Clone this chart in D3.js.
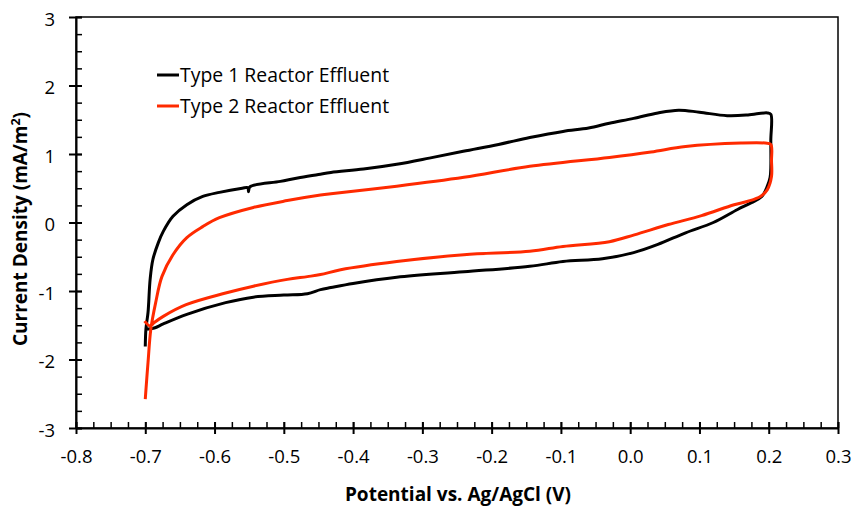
<!DOCTYPE html>
<html><head><meta charset="utf-8">
<script src="https://cdn.jsdelivr.net/npm/d3@7"></script>
<style>body{margin:0;background:#fff}svg{display:block}text{font-family:"Open Sans",sans-serif}</style>
</head><body><svg id="c" width="852" height="508"></svg>
<script>
// Data (potential V, current density mA/m^2)
const seriesNames = ["Type 1 Reactor Effluent", "Type 2 Reactor Effluent"];
const seriesColors = ["#000000", "#ff2a00"];
const type1 = [
[-0.700,-1.81],[-0.699,-1.55],[-0.696,-1.31],[-0.693,-0.83],[-0.689,-0.54],[-0.681,-0.29],[-0.674,-0.13],[-0.660,0.09],[-0.640,0.26],[-0.617,0.38],[-0.593,0.44],[-0.560,0.50],[-0.552,0.51],[-0.551,0.45],[-0.549,0.52],[-0.505,0.60],[-0.480,0.65],[-0.450,0.70],[-0.432,0.73],[-0.385,0.78],[-0.337,0.85],[-0.290,0.94],[-0.241,1.04],[-0.190,1.14],[-0.145,1.24],[-0.097,1.33],[-0.060,1.38],[-0.030,1.45],[0.005,1.52],[0.040,1.60],[0.070,1.64],[0.100,1.61],[0.140,1.56],[0.170,1.57],[0.198,1.60],[0.203,1.58],
[0.203,1.20],[0.203,0.80],[0.202,0.66],[0.198,0.53],[0.190,0.38],[0.175,0.29],[0.155,0.19],[0.120,0.00],[0.080,-0.15],[0.040,-0.32],[0.005,-0.44],[-0.040,-0.53],[-0.097,-0.57],[-0.145,-0.64],[-0.240,-0.72],[-0.337,-0.80],[-0.400,-0.89],[-0.432,-0.95],[-0.447,-0.98],[-0.466,-1.04],[-0.500,-1.06],[-0.544,-1.09],[-0.584,-1.17],[-0.640,-1.34],[-0.674,-1.48],[-0.687,-1.54],[-0.699,-1.56]
];
const type2 = [
[-0.700,-2.58],[-0.698,-2.30],[-0.696,-2.04],[-0.692,-1.56],[-0.685,-1.17],[-0.676,-0.79],[-0.660,-0.47],[-0.640,-0.22],[-0.617,-0.06],[-0.593,0.07],[-0.544,0.22],[-0.495,0.32],[-0.447,0.40],[-0.432,0.42],[-0.337,0.53],[-0.240,0.66],[-0.145,0.82],[-0.030,0.95],[0.030,1.03],[0.080,1.11],[0.160,1.16],[0.195,1.16],[0.203,1.14],
[0.204,0.90],[0.204,0.67],[0.198,0.48],[0.188,0.38],[0.170,0.31],[0.150,0.26],[0.103,0.10],[0.055,-0.03],[0.006,-0.18],[-0.030,-0.28],[-0.097,-0.35],[-0.145,-0.42],[-0.240,-0.47],[-0.337,-0.57],[-0.418,-0.69],[-0.447,-0.76],[-0.466,-0.79],[-0.495,-0.83],[-0.544,-0.93],[-0.584,-1.03],[-0.641,-1.20],[-0.674,-1.37],[-0.687,-1.46],[-0.693,-1.51],[-0.701,-1.44]
];
const xTicks = [-0.8,-0.7,-0.6,-0.5,-0.4,-0.3,-0.2,-0.1,0.0,0.1,0.2,0.3];
const yTicks = [-3,-2,-1,0,1,2,3];

const svg = d3.select("#c");
const L=76, R=838, T=17, B=428;
const x = d3.scaleLinear().domain([-0.8,0.3]).range([L,R]);
const y = d3.scaleLinear().domain([-3,3]).range([B,T]);

// frame
svg.append("rect").attr("x",L).attr("y",T).attr("width",R-L).attr("height",B-T)
  .attr("fill","none").attr("stroke","#000").attr("stroke-width",1.5);

// minor ticks
const xMinor = d3.range(-0.8,0.3001,0.025);
const yMinor = d3.range(-3,3.001,0.25);
svg.append("g").attr("transform",`translate(0,${B})`)
  .call(d3.axisBottom(x).tickValues(xMinor).tickSize(-6).tickFormat(""))
  .call(g=>{g.select(".domain").remove();g.selectAll("line").attr("stroke-width",1.5);});
svg.append("g").attr("transform",`translate(${L},0)`)
  .call(d3.axisLeft(y).tickValues(yMinor).tickSize(-6).tickFormat(""))
  .call(g=>{g.select(".domain").remove();g.selectAll("line").attr("stroke-width",1.5);});

// major ticks
const gx = svg.append("g").attr("transform",`translate(0,${B})`)
  .call(d3.axisBottom(x).tickValues(xTicks).tickSizeInner(6).tickSizeOuter(0));
gx.select(".domain").attr("stroke-width",2);
gx.selectAll(".tick line").attr("y1",-6).attr("y2",6).attr("stroke-width",2);
gx.selectAll("text").attr("font-size",18.5).attr("fill","#000").attr("font-family","Open Sans")
  .attr("y",35).attr("dy",0).text(d=>(d<0?"-":"")+Math.abs(d).toFixed(1));

const gy = svg.append("g").attr("transform",`translate(${L},0)`)
  .call(d3.axisLeft(y).tickValues(yTicks).tickSizeInner(6).tickSizeOuter(0));
gy.select(".domain").attr("stroke-width",2);
gy.selectAll(".tick line").attr("x1",-7).attr("x2",6).attr("stroke-width",2);
gy.selectAll("text").attr("font-size",18.5).attr("fill","#000").attr("font-family","Open Sans")
  .attr("x",-21).attr("dy","0.45em").text(d=>d<0?"-"+Math.abs(d):d);

// curves
const line = d3.line().x(d=>x(d[0])).y(d=>y(d[1])).curve(d3.curveCatmullRom.alpha(0.5));
[type1,type2].forEach((s,i)=>{
  svg.append("path").datum(s).attr("d",line).attr("fill","none")
    .attr("stroke",seriesColors[i]).attr("stroke-width",3).attr("stroke-linejoin","round");
});

// legend
const legY=[75,106];
seriesNames.forEach((n,i)=>{
  svg.append("line").attr("x1",157).attr("x2",179).attr("y1",legY[i]).attr("y2",legY[i])
    .attr("stroke",seriesColors[i]).attr("stroke-width",3);
  svg.append("text").attr("x",180).attr("y",legY[i]).attr("dy","0.36em")
    .attr("font-size",19.4).attr("fill","#000").text(n);
});

// axis titles
svg.append("text").attr("x",458).attr("y",501).attr("text-anchor","middle")
  .attr("font-size",19).attr("font-weight","bold").text("Potential vs. Ag/AgCl (V)");
const yt = svg.append("text").attr("transform",`translate(27,229) rotate(-90)`)
  .attr("text-anchor","middle").attr("font-size",19).attr("font-weight","bold");
yt.append("tspan").text("Current Density (mA/m");
yt.append("tspan").attr("dy",-7).attr("font-size",12.5).text("2");
yt.append("tspan").attr("dy",7).text(")");
</script></body></html>
